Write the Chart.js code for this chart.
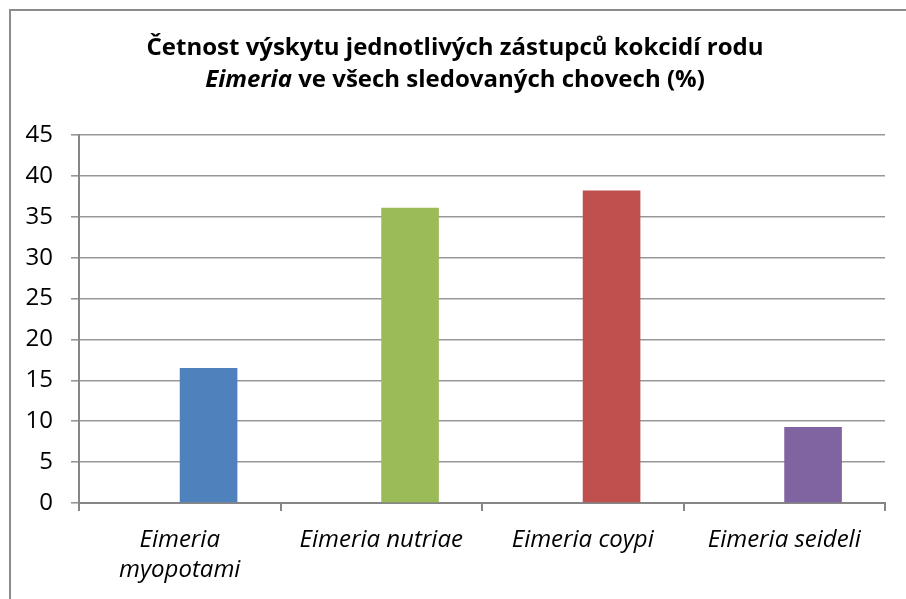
<!DOCTYPE html>
<html>
<head>
<meta charset="utf-8">
<script src="https://cdn.jsdelivr.net/npm/chart.js@4.4.1/dist/chart.umd.min.js"></script>
<style>
  html, body { margin: 0; padding: 0; background: #fff; }
  #wrap { width: 906px; height: 599px; position: relative; }
</style>
</head>
<body>
<div id="wrap"><canvas id="barCanvas" width="906" height="599"></canvas></div>
<script>
// data
var categories = [["Eimeria", "myopotami"], "Eimeria nutriae", "Eimeria coypi", "Eimeria seideli"];
var values = [16.5, 36.1, 38.2, 9.3];
var emptySeries = [null, null, null, null]; // the source chart had an empty first series
var barColors = ["#4f81bd", "#9bbb59", "#c0504d", "#8064a2"];
var yTicks = [0, 5, 10, 15, 20, 25, 30, 35, 40, 45];
var titleLine1 = "Četnost výskytu jednotlivých zástupců kokcidí rodu";
var titleLine2 = [["Eimeria", true], [" ve všech sledovaných chovech (%)", false]];

var FONT = "'Open Sans', 'Noto Sans', sans-serif";
var TITLE_SIZE = 24;

// frame + two line title with italic genus name
var framePlugin = {
  id: "frame",
  beforeDraw: function (chart) {
    var c = chart.ctx;
    c.save();
    c.fillStyle = "#fff";
    c.fillRect(0, 0, chart.width, chart.height);
    c.strokeStyle = "#8c8c8c";
    c.lineWidth = 2;
    c.strokeRect(10, 10, 1000, 1000);
    c.restore();
  },
  afterDraw: function (chart) {
    var c = chart.ctx;
    var cx = 455;
    c.save();
    c.fillStyle = "#000";
    c.textBaseline = "alphabetic";
    c.textAlign = "center";
    c.font = "bold " + TITLE_SIZE + "px " + FONT;
    c.fillText(titleLine1, cx, 55);

    c.textAlign = "left";
    var total = 0;
    titleLine2.forEach(function (p) {
      c.font = (p[1] ? "italic " : "") + "bold " + TITLE_SIZE + "px " + FONT;
      total += c.measureText(p[0]).width;
    });
    var x = cx - total / 2;
    titleLine2.forEach(function (p) {
      c.font = (p[1] ? "italic " : "") + "bold " + TITLE_SIZE + "px " + FONT;
      c.fillText(p[0], x, 87);
      x += c.measureText(p[0]).width;
    });
    c.restore();
  }
};

var ctx = document.getElementById("barCanvas");
var chart = new Chart(ctx, {
  type: "bar",
  data: {
    labels: categories,
    datasets: [{
      data: emptySeries,
      backgroundColor: "transparent"
    }, {
      data: values,
      backgroundColor: barColors
    }]
  },
  options: {
    responsive: false,
    animation: false,
    layout: { padding: { top: 135, right: 21, left: 0, bottom: 0 } },
    datasets: { bar: { categoryPercentage: 0.572, barPercentage: 1 } },
    plugins: {
      legend: { display: false },
      title: { display: false },
      tooltip: { enabled: false }
    },
    scales: {
      x: {
        grid: { offset: true, drawOnChartArea: false, drawTicks: true, tickLength: 8, color: "#868686", lineWidth: 2 },
        border: { color: "#868686", width: 2 },
        ticks: {
          color: "#000",
          font: { family: FONT, size: 24, style: "italic", lineHeight: 1.22 },
          padding: 15,
          maxRotation: 0,
          autoSkip: false
        },
        afterFit: function (s) { s.height = 96; }
      },
      y: {
        min: 0,
        max: 45,
        afterBuildTicks: function (s) { s.ticks = yTicks.map(function (v) { return { value: v }; }); },
        grid: { color: "#979797", lineWidth: 1.6, tickLength: 8 },
        border: { color: "#868686", width: 2 },
        ticks: {
          color: "#000",
          font: { family: FONT, size: 24 },
          padding: 18
        },
        afterFit: function (s) { s.width = 79; }
      }
    }
  },
  plugins: [framePlugin]
});
</script>
</body>
</html>
